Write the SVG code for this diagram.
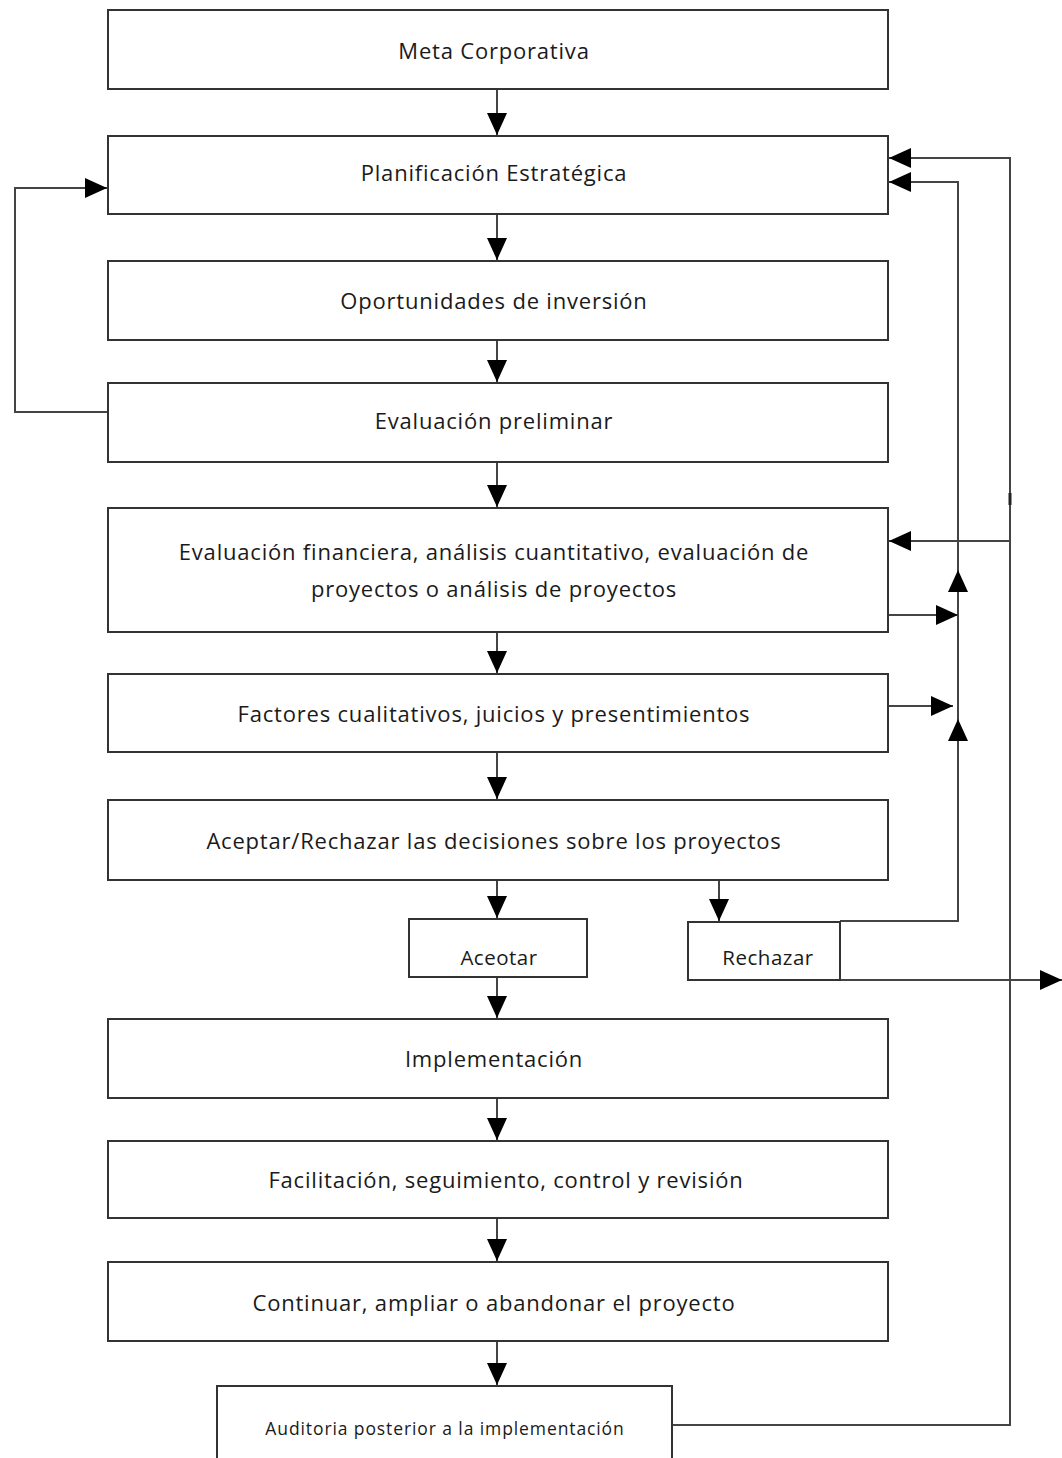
<svg xmlns="http://www.w3.org/2000/svg" width="1062" height="1458" viewBox="0 0 1062 1458">
<style>
.box{fill:#fff;stroke:#333;stroke-width:2}
.t{font-family:"Open Sans","DejaVu Sans",sans-serif;font-size:22px;letter-spacing:0.8px;fill:#1a1a1a;text-anchor:middle;dominant-baseline:central}
.s{font-size:17.5px;letter-spacing:0.9px}
.m{font-size:20.5px;letter-spacing:0.5px}
.c{fill:none;stroke:#444;stroke-width:2}
</style>
<defs>
<marker id="ah" viewBox="0 0 22 20" refX="22" refY="10" markerWidth="22" markerHeight="20" markerUnits="userSpaceOnUse" orient="auto">
<path d="M0,0 L22,10 L0,20 z" fill="#000"/>
</marker>
</defs>
<g id="connectors">
<path class="c" d="M497,89 V135" marker-end="url(#ah)"/>
<path class="c" d="M497,214 V260" marker-end="url(#ah)"/>
<path class="c" d="M497,340 V382" marker-end="url(#ah)"/>
<path class="c" d="M497,462 V507" marker-end="url(#ah)"/>
<path class="c" d="M497,632 V673" marker-end="url(#ah)"/>
<path class="c" d="M497,752 V799" marker-end="url(#ah)"/>
<path class="c" d="M497,880 V918" marker-end="url(#ah)"/>
<path class="c" d="M719,880 V921" marker-end="url(#ah)"/>
<path class="c" d="M497,977 V1018" marker-end="url(#ah)"/>
<path class="c" d="M497,1098 V1140" marker-end="url(#ah)"/>
<path class="c" d="M497,1218 V1261" marker-end="url(#ah)"/>
<path class="c" d="M497,1341 V1385" marker-end="url(#ah)"/>
<path class="c" d="M108,412 H15 V188 H107" marker-end="url(#ah)"/>
<path class="c" d="M672,1425 H1010 V158 H889" marker-end="url(#ah)"/>
<path class="c" d="M1010,541 H889" marker-end="url(#ah)"/>
<line x1="1010" y1="493" x2="1010" y2="505" stroke="#222" stroke-width="3"/>
<path class="c" d="M840,921 H958 V182 H889" marker-end="url(#ah)"/>
<path class="c" d="M958,600 V570" marker-end="url(#ah)"/>
<path class="c" d="M958,750 V719" marker-end="url(#ah)"/>
<path class="c" d="M888,615 H958" marker-end="url(#ah)"/>
<path class="c" d="M888,706 H953" marker-end="url(#ah)"/>
<path class="c" d="M840,980 H1062" marker-end="url(#ah)"/>
</g>
<g id="n1"><rect class="box" x="108" y="10" width="780" height="79"/><text class="t" x="494" y="50">Meta Corporativa</text></g>
<g id="n2"><rect class="box" x="108" y="136" width="780" height="78"/><text class="t" x="494" y="172">Planificación Estratégica</text></g>
<g id="n3"><rect class="box" x="108" y="261" width="780" height="79"/><text class="t" x="494" y="300">Oportunidades de inversión</text></g>
<g id="n4"><rect class="box" x="108" y="383" width="780" height="79"/><text class="t" x="494" y="420">Evaluación preliminar</text></g>
<g id="n5"><rect class="box" x="108" y="508" width="780" height="124"/><text class="t" x="494" y="551">Evaluación financiera, análisis cuantitativo, evaluación de</text><text class="t" x="494" y="588">proyectos o análisis de proyectos</text></g>
<g id="n6"><rect class="box" x="108" y="674" width="780" height="78"/><text class="t" x="494" y="713">Factores cualitativos, juicios y presentimientos</text></g>
<g id="n7"><rect class="box" x="108" y="800" width="780" height="80"/><text class="t" x="494" y="840">Aceptar/Rechazar las decisiones sobre los proyectos</text></g>
<g id="n8"><rect class="box" x="409" y="919" width="178" height="58"/><text class="t m" x="499" y="957">Aceotar</text></g>
<g id="n9"><rect class="box" x="688" y="922" width="152" height="58"/><text class="t m" x="768" y="957">Rechazar</text></g>
<g id="n10"><rect class="box" x="108" y="1019" width="780" height="79"/><text class="t" x="494" y="1058">Implementación</text></g>
<g id="n11"><rect class="box" x="108" y="1141" width="780" height="77"/><text class="t" x="506" y="1179">Facilitación, seguimiento, control y revisión</text></g>
<g id="n12"><rect class="box" x="108" y="1262" width="780" height="79"/><text class="t" x="494" y="1302">Continuar, ampliar o abandonar el proyecto</text></g>
<g id="n13"><rect class="box" x="217" y="1386" width="455" height="90"/><text class="t s" x="445" y="1428">Auditoria posterior a la implementación</text></g>
</svg>
